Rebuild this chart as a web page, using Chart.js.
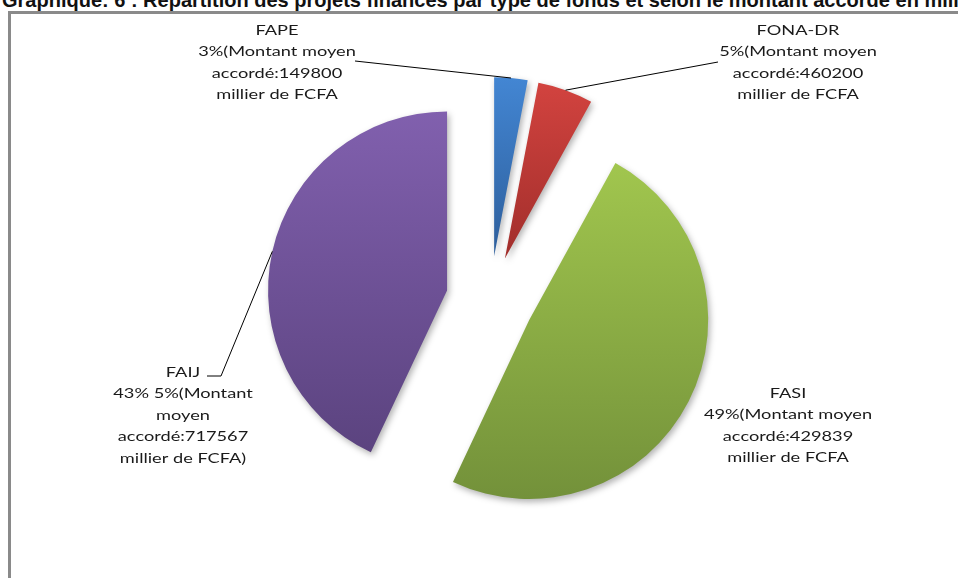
<!DOCTYPE html>
<html>
<head>
<meta charset="utf-8">
<script src="https://cdn.jsdelivr.net/npm/chart.js@4.4.0/dist/chart.umd.min.js"></script>
<style>
body { margin: 0; background: #fff; overflow: hidden; }
#title { position: absolute; left: 2px; top: -10px; font: bold 20px 'Liberation Sans', Arial, sans-serif; line-height: 20px; white-space: nowrap; color: #111; }
#frame { position: absolute; left: 8px; top: 11px; width: 1000px; height: 1000px; border: 3px solid #8a8a8a; }
#wrap { position: absolute; left: 0; top: 0; width: 958px; height: 578px; }
</style>
</head>
<body>
<div id="title">Graphique: 6 : Répartition des projets financés par type de fonds et selon le montant accordé en milliers de FCFA</div>
<div id="frame"></div>
<div id="wrap"><canvas id="myChart" width="958" height="578"></canvas></div>
<script>
//Pie of funded projects by fund type

//Data
var categories = ["FAPE", "FONA-DR", "FASI", "FAIJ"];
var percentages = [3, 5, 49, 43];
var montants = ["149800", "460200", "429839", "717567"];

//Label text as printed on the chart (FAIJ label has its own wording)
var labelLines = [
    [categories[0], percentages[0] + "%(Montant moyen", "accordé:" + montants[0], "millier de FCFA"],
    [categories[1], percentages[1] + "%(Montant moyen", "accordé:" + montants[1], "millier de FCFA"],
    [categories[2], percentages[2] + "%(Montant moyen", "accordé:" + montants[2], "millier de FCFA"],
    [categories[3], percentages[3] + "% 5%(Montant", "moyen", "accordé:" + montants[3], "millier de FCFA)"]
];

//Styles
var lightColors = ["#4386d3", "#d2433f", "#a1c64e", "#8160ae"];
var darkColors = ["#2d5e9b", "#a12e2b", "#73913a", "#5b437f"];
var explode = 44;

//Label layout: centre x, first line y, and where the leader line leaves the text
var labelPos = [
    { x: 277, y: 30, lead: [[355, 61]] },
    { x: 798, y: 30, lead: [[718, 62]] },
    { x: 788, y: 393, lead: null },
    { x: 183, y: 372, lead: [[207, 376], [221, 376]] }
];
var lineHeight = 21.5;
var textScaleX = 1.3;

//Push each slice out from the centre and give it a vertical gradient
var explodePlugin = {
    id: "explode",
    afterDatasetUpdate: function (chart, args) {
        var c = chart.ctx;
        args.meta.data.forEach(function (arc, i) {
            var mid = (arc.startAngle + arc.endAngle) / 2;
            arc.x += Math.cos(mid) * explode;
            arc.y += Math.sin(mid) * explode;
            //vertical extent of the sector
            var minY = arc.y, maxY = arc.y;
            for (var k = 0; k <= 40; k++) {
                var a = arc.startAngle + (arc.endAngle - arc.startAngle) * k / 40;
                var py = arc.y + Math.sin(a) * arc.outerRadius;
                minY = Math.min(minY, py);
                maxY = Math.max(maxY, py);
            }
            var grad = c.createLinearGradient(0, minY, 0, maxY);
            grad.addColorStop(0, lightColors[i]);
            grad.addColorStop(1, darkColors[i]);
            arc.options = Object.assign({}, arc.options, { backgroundColor: grad });
        });
    }
};

//Soft shadow under the slices
var shadowPlugin = {
    id: "shadow",
    beforeDatasetsDraw: function (chart) {
        var c = chart.ctx;
        c.save();
        c.shadowColor = "rgba(0,0,0,0.30)";
        c.shadowBlur = 6;
        c.shadowOffsetX = 2;
        c.shadowOffsetY = 3;
    },
    afterDatasetsDraw: function (chart) {
        chart.ctx.restore();
    }
};

//Data labels with leader lines
var labelPlugin = {
    id: "pieLabels",
    afterDraw: function (chart) {
        var c = chart.ctx;
        var arcs = chart.getDatasetMeta(0).data;
        c.save();
        arcs.forEach(function (arc, i) {
            var pos = labelPos[i];
            if (pos.lead) {
                var mid = (arc.startAngle + arc.endAngle) / 2;
                var ex = arc.x + Math.cos(mid) * arc.outerRadius;
                var ey = arc.y + Math.sin(mid) * arc.outerRadius;
                c.beginPath();
                c.moveTo(pos.lead[0][0], pos.lead[0][1]);
                for (var k = 1; k < pos.lead.length; k++) {
                    c.lineTo(pos.lead[k][0], pos.lead[k][1]);
                }
                c.lineTo(ex, ey);
                c.strokeStyle = "#000";
                c.lineWidth = 1;
                c.stroke();
            }
            c.font = "14px Lato";
            c.fillStyle = "#1a1a1a";
            c.textAlign = "center";
            c.textBaseline = "middle";
            labelLines[i].forEach(function (line, j) {
                c.save();
                c.translate(pos.x, pos.y + j * lineHeight);
                c.scale(textScaleX, 1);
                c.fillText(line, 0, 0);
                c.restore();
            });
        });
        c.restore();
    }
};

var infoChart = new Chart("myChart", {
    type: "pie",
    data: {
        labels: categories,
        datasets: [{
            data: percentages,
            backgroundColor: lightColors,
            borderWidth: 0
        }]
    },
    options: {
        responsive: false,
        animation: false,
        events: [],
        layout: { padding: { top: 121, bottom: 99, left: 200, right: 178 } },
        plugins: {
            legend: { display: false },
            tooltip: { enabled: false }
        }
    },
    plugins: [explodePlugin, shadowPlugin, labelPlugin]
});
</script>
</body>
</html>
